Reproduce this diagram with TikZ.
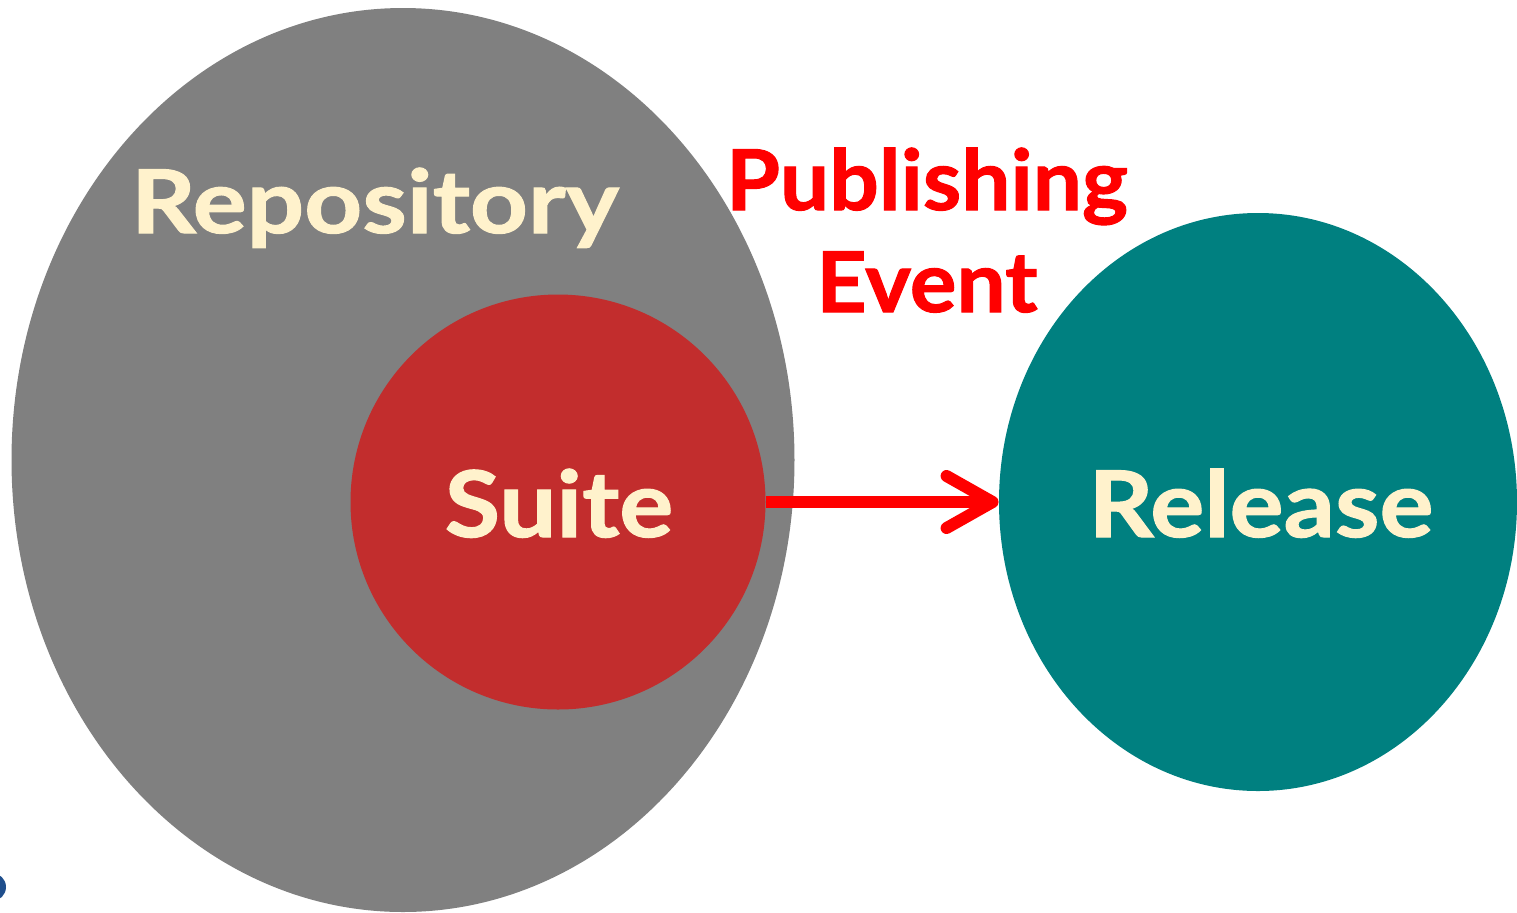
\documentclass[tikz,border=0pt]{standalone}
\usepackage{fontspec}
\setmainfont{Lato}
\usetikzlibrary{arrows.meta}
\usetikzlibrary{positioning}
\usetikzlibrary{shapes.geometric}
\definecolor{repogray}{HTML}{808080}
\definecolor{suitered}{HTML}{C22D2D}
\definecolor{releaseteal}{HTML}{008080}
\definecolor{labelcream}{HTML}{FFF2CC}
\definecolor{eventred}{HTML}{FF0000}
\definecolor{cornerblue}{HTML}{1F4E8C}
\tikzset {
  set node/.style = {
    ellipse,
    draw = none,
    inner sep = 0
  },
  % repository, the outer set
  repo/.style = {
    set node,
    fill = repogray,
    minimum width = 391.5pt,
    minimum height = 452pt
  },
  % suite, inside the repository
  suite/.style = {
    set node,
    circle,
    fill = suitered,
    minimum size = 207.5pt
  },
  release/.style = {
    set node,
    fill = releaseteal,
    minimum width = 259pt,
    minimum height = 289pt
  },
  % size and stretch of the label
  set label/.style 2 args = {
    text = labelcream,
    anchor = base,
    font = \fontsize{#1}{50}\selectfont\bfseries\addfontfeatures{FakeStretch=#2, FakeBold=1.2}
  },
  event label/.style = {
    text = eventred,
    anchor = base,
    font = \fontsize{42}{48}\selectfont\bfseries\addfontfeatures{FakeStretch=1.04, FakeBold=1.2}
  },
  pub arrow/.style = {
    draw = eventred,
    line width = 6pt,
    -{Straight Barb[length=23pt, width=26pt, round]}
  }
}

\begin{document}
\begin{tikzpicture}[x=0.5pt, y=-0.5pt]
  \useasboundingbox (0,0) rectangle (1517,912);

  \node[repo] (repository) at (403,460) {};
  \node[suite] (suite) at (558,502) {};
  \node[release] (release) at (1258,502) {};
  \node[circle, fill=cornerblue, inner sep=0, minimum size=14pt] (corner) at (-8,887) {};

  \node[set label={44}{1.15}] (repository-name) at (375,233) {Repository};
  \node[set label={46}{1.1}] (suite-name) at (559,537) {Suite};
  \node[set label={46}{1.1}] (release-name) at (1261,537) {Release};
  \node[event label] (publishing) at (927,210) {Publishing};
  \node[event label] (event) at (927,312) {Event};

  \draw[pub arrow] (suite.east) -- (release.west);
\end{tikzpicture}
\end{document}
